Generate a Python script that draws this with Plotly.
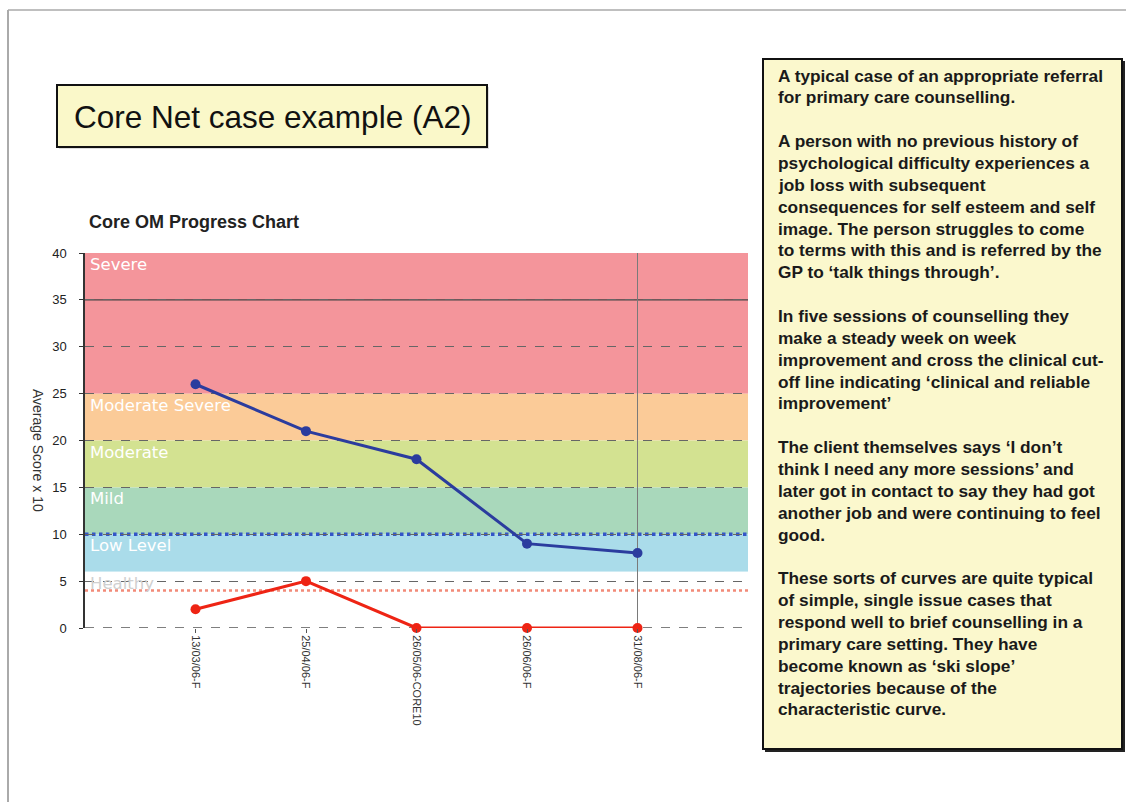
import plotly.graph_objects as go

# ---------------- data ----------------
sessions = ["13/03/06-F", "25/04/06-F", "26/05/06-CORE10", "26/06/06-F", "31/08/06-F"]
score_blue = [26, 21, 18, 9, 8]
score_red = [2, 5, 0, 0, 0]

band_names = ["Severe", "Moderate Severe", "Moderate", "Mild", "Low Level", "Healthy"]
band_low = [25, 20, 15, 10, 6, 0]
band_high = [40, 25, 20, 15, 10, 6]
band_colors = ["#F4959B", "#FBCB98", "#D3E291", "#A9D8BB", "#AADCEA", "#FFFFFF"]
band_label_colors = ["white", "white", "white", "white", "white", "#D0D0D0"]

clinical_cutoff = 10
risk_line = 4
y_ticks = [0, 5, 10, 15, 20, 25, 30, 35, 40]

title_text = "Core Net case example (A2)"
chart_title = "Core OM Progress Chart"
y_title = "Average Score x 10"

paragraphs = [
    ["A typical case of an appropriate referral",
     "for primary care counselling."],
    ["A person with no previous history of",
     "psychological difficulty experiences a",
     "job loss with subsequent",
     "consequences for self esteem and self",
     "image. The person struggles to come",
     "to terms with this and is referred by the",
     "GP to \u2018talk things through\u2019."],
    ["In five sessions of counselling they",
     "make a steady week on week",
     "improvement and cross the clinical cut-",
     "off line indicating \u2018clinical and reliable",
     "improvement\u2019"],
    ["The client themselves says \u2018I don\u2019t",
     "think I need any more sessions\u2019 and",
     "later got in contact to say they had got",
     "another job and were continuing to feel",
     "good."],
    ["These sorts of curves are quite typical",
     "of simple, single issue cases that",
     "respond well to brief counselling in a",
     "primary care setting. They have",
     "become known as \u2018ski slope\u2019",
     "trajectories because of the",
     "characteristic curve."],
]

# ---------------- layout helpers ----------------
W, H = 1126, 802
def fx(x):
    return x / W
def fy(y):
    return 1 - y / H

PL, PR, PT, PB = 85, 748, 253, 628  # plot area in pixels

fig = go.Figure()

fig.add_trace(go.Scatter(
    x=sessions, y=score_blue, mode="lines+markers",
    line=dict(color="#2B3C9E", width=3),
    marker=dict(color="#2B3C9E", size=10),
    hoverinfo="x+y", cliponaxis=False))
fig.add_trace(go.Scatter(
    x=sessions, y=score_red, mode="lines+markers",
    line=dict(color="#EE2414", width=3),
    marker=dict(color="#EE2414", size=10),
    hoverinfo="x+y", cliponaxis=False))

shapes = []
annotations = []

# bands
for name, lo, hi, col, lcol in zip(band_names, band_low, band_high, band_colors, band_label_colors):
    shapes.append(dict(type="rect", xref="x domain", yref="y", x0=0, x1=1, y0=lo, y1=hi,
                       fillcolor=col, line=dict(width=0), layer="below"))
    annotations.append(dict(xref="x domain", yref="y", x=0.005, y=hi, text=name,
                            showarrow=False, xanchor="left", yanchor="top", yshift=0,
                            font=dict(family="DejaVu Sans", size=16.5, color=lcol)))

# solid gridline at 35
shapes.append(dict(type="line", xref="x domain", yref="y", x0=0, x1=1, y0=35, y1=35,
                   line=dict(color="#444444", width=1.2), layer="below"))
# clinical cut-off (blue dotted) and red dotted line
shapes.append(dict(type="line", xref="x domain", yref="y", x0=0, x1=1,
                   y0=clinical_cutoff, y1=clinical_cutoff,
                   line=dict(color="#3355C8", width=3.5, dash="dot"), layer="below"))
shapes.append(dict(type="line", xref="x domain", yref="y", x0=0, x1=1,
                   y0=risk_line, y1=risk_line,
                   line=dict(color="#F28A78", width=2.5, dash="dot"), layer="below"))
# vertical line at last session
shapes.append(dict(type="line", xref="x", yref="y domain", x0=sessions[-1], x1=sessions[-1],
                   y0=0, y1=1, line=dict(color="#7A7A7A", width=1), layer="below"))
# bottom axis (dashed)
shapes.append(dict(type="line", xref="x domain", yref="y", x0=0, x1=1, y0=0, y1=0,
                   line=dict(color="#555555", width=1.5, dash="dash"), layer="below"))

# outer frame
shapes.append(dict(type="line", xref="paper", yref="paper", x0=fx(8), x1=1, y0=fy(10), y1=fy(10),
                   line=dict(color="#AAAAAA", width=1.5)))
shapes.append(dict(type="line", xref="paper", yref="paper", x0=fx(8), x1=fx(8), y0=fy(10), y1=0,
                   line=dict(color="#AAAAAA", width=2)))

# title box
shapes.append(dict(type="rect", xref="paper", yref="paper", x0=fx(59), x1=fx(489), y0=fy(149), y1=fy(87),
                   fillcolor="#DDDDDD", line=dict(width=0)))
shapes.append(dict(type="rect", xref="paper", yref="paper", x0=fx(57), x1=fx(487), y0=fy(147), y1=fy(85),
                   fillcolor="#FAF8C9", line=dict(color="#111111", width=2)))
annotations.append(dict(xref="paper", yref="paper", x=fx(272), y=fy(117), text=title_text,
                        showarrow=False, xanchor="center", yanchor="middle",
                        font=dict(family="Liberation Sans, Arial", size=31.5, color="#111111")))

# chart title
annotations.append(dict(xref="paper", yref="paper", x=fx(87), y=fy(222), text="<b>" + chart_title + "</b>",
                        showarrow=False, xanchor="left", yanchor="middle",
                        font=dict(family="Liberation Sans, Arial", size=18, color="#222222")))

# y-axis title (reads top to bottom)
annotations.append(dict(xref="paper", yref="paper", x=fx(38), y=fy(450), text=y_title,
                        showarrow=False, textangle=90, xanchor="center", yanchor="middle",
                        font=dict(family="Liberation Sans, Arial", size=14, color="#333333")))

# text box
shapes.append(dict(type="rect", xref="paper", yref="paper", x0=fx(765), x1=fx(1125), y0=fy(752), y1=fy(61),
                   fillcolor="#222222", line=dict(width=0)))
shapes.append(dict(type="rect", xref="paper", yref="paper", x0=fx(763), x1=fx(1122), y0=fy(749), y1=fy(59),
                   fillcolor="#FBF8CD", line=dict(color="#111111", width=2)))
line_y = 75.5
pitch = 21.86
for p in paragraphs:
    for ln in p:
        annotations.append(dict(xref="paper", yref="paper", x=fx(776), y=fy(line_y), text="<b>" + ln + "</b>",
                                showarrow=False, xanchor="left", yanchor="middle",
                                font=dict(family="Liberation Sans, Arial", size=17.3, color="#1A1A1A")))
        line_y += pitch
    line_y += pitch

fig.update_layout(
    width=W, height=H, autosize=False,
    margin=dict(l=0, r=0, t=0, b=0, pad=0, autoexpand=False),
    paper_bgcolor="white", plot_bgcolor="white",
    showlegend=False,
    shapes=shapes, annotations=annotations,
    xaxis=dict(domain=[fx(PL), fx(PR)], type="category", range=[-1, len(sessions)],
               automargin=False,
               showgrid=False, zeroline=False, showline=False,
               ticks="outside", ticklen=4, tickcolor="#555555", tickangle=90,
               tickfont=dict(family="Liberation Sans, Arial", size=11, color="#333333"),
               fixedrange=True),
    yaxis=dict(domain=[fy(PB), fy(PT)], range=[0, 40], tickvals=y_ticks,
               automargin=False,
               showgrid=True, gridcolor="#666666", griddash="dash", gridwidth=1,
               zeroline=False, showline=True, linecolor="#333333", linewidth=1.5,
               ticks="outside", ticklen=4, tickcolor="#333333", ticklabelstandoff=10,
               tickfont=dict(family="Liberation Sans, Arial", size=13, color="#222222"),
               fixedrange=True),
)

fig.write_html("out.html", config={"responsive": False, "displayModeBar": False})
